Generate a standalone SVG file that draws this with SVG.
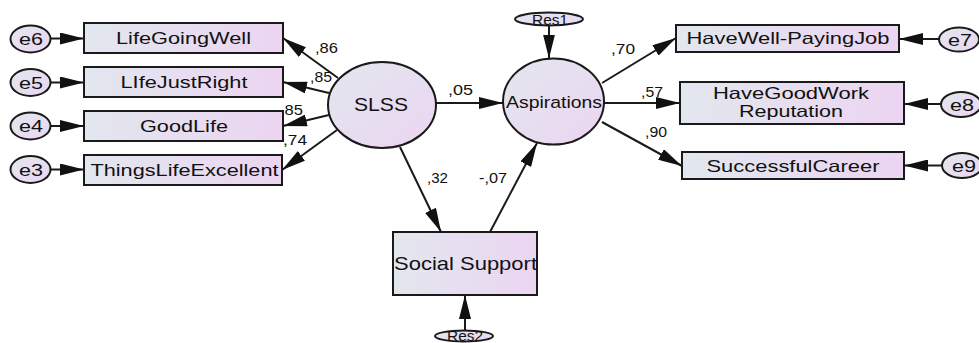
<svg xmlns="http://www.w3.org/2000/svg" width="979" height="343" viewBox="0 0 979 343">
<style>
.box{stroke:#1a1a1a;stroke-width:2;fill:url(#gh)}
.ell{stroke:#1a1a1a;stroke-width:2;fill:url(#gd)}
.lbl{font-family:"Liberation Sans",Arial,sans-serif;fill:#111;text-anchor:middle}
.num{font-family:"Liberation Sans",Arial,sans-serif;fill:#111;font-size:14.5px}
.c{stroke:#1a1a1a;stroke-width:2;fill:none;marker-end:url(#ah)}
</style>
<defs>
<linearGradient id="gh" x1="0" y1="0" x2="1" y2="0">
<stop offset="0" stop-color="#e2e7ee"/>
<stop offset="1" stop-color="#ecd5f2"/>
</linearGradient>
<linearGradient id="gd" x1="0" y1="0" x2="1" y2="1">
<stop offset="0" stop-color="#e2e7ee"/>
<stop offset="1" stop-color="#ecd5f2"/>
</linearGradient>
<marker id="ah" markerUnits="userSpaceOnUse" markerWidth="24" markerHeight="12" refX="24" refY="6" orient="auto" viewBox="0 0 24 12">
<path d="M0,0 L24,6 L0,12 z" fill="#111"/>
</marker>
</defs>
<rect width="979" height="343" fill="#fff"/>
<g id="connectors">
<line class="c" x1="51" y1="38.5" x2="84" y2="38.5"/>
<line class="c" x1="51" y1="82.5" x2="84" y2="82.5"/>
<line class="c" x1="51" y1="126" x2="84" y2="126"/>
<line class="c" x1="51" y1="169.5" x2="84" y2="169.5"/>
<line class="c" x1="939" y1="39" x2="899" y2="39"/>
<line class="c" x1="941" y1="104" x2="904" y2="104"/>
<line class="c" x1="942" y1="165.5" x2="904" y2="165.5"/>
<line class="c" x1="338" y1="78" x2="283" y2="38"/>
<line class="c" x1="329" y1="93" x2="283" y2="82"/>
<line class="c" x1="329" y1="115" x2="283" y2="126"/>
<line class="c" x1="337" y1="130" x2="282" y2="170"/>
<line class="c" x1="436" y1="103" x2="503" y2="103"/>
<line class="c" x1="549" y1="25.5" x2="549" y2="58.5"/>
<line class="c" x1="602" y1="83" x2="676" y2="38"/>
<line class="c" x1="604" y1="103" x2="680" y2="103"/>
<line class="c" x1="602" y1="122" x2="682" y2="166"/>
<line class="c" x1="400" y1="147" x2="441" y2="232"/>
<line class="c" x1="490" y1="232" x2="537" y2="143"/>
<line class="c" x1="465" y1="331" x2="465" y2="295"/>
<g id="labels">
<text class="num" x="315" y="53.3" textLength="23" lengthAdjust="spacingAndGlyphs">,86</text>
<text class="num" x="310" y="81.7" textLength="22" lengthAdjust="spacingAndGlyphs">,85</text>
<text class="num" x="280" y="115" textLength="23" lengthAdjust="spacingAndGlyphs">,85</text>
<text class="num" x="283" y="145" textLength="24" lengthAdjust="spacingAndGlyphs">,74</text>
<text class="num" x="448" y="95" textLength="25" lengthAdjust="spacingAndGlyphs">,05</text>
<text class="num" x="427" y="183" textLength="21" lengthAdjust="spacingAndGlyphs">,32</text>
<text class="num" x="479" y="183" textLength="28" lengthAdjust="spacingAndGlyphs">-,07</text>
<text class="num" x="611" y="54" textLength="24" lengthAdjust="spacingAndGlyphs">,70</text>
<text class="num" x="641" y="97" textLength="22" lengthAdjust="spacingAndGlyphs">,57</text>
<text class="num" x="645" y="137" textLength="22" lengthAdjust="spacingAndGlyphs">,90</text>
</g>
</g>
<g id="e6"><ellipse class="ell" cx="30.5" cy="39" rx="20" ry="13.5"/><text class="lbl" x="31" y="45" font-size="17" textLength="24" lengthAdjust="spacingAndGlyphs">e6</text></g>
<g id="e5"><ellipse class="ell" cx="30.5" cy="82.5" rx="20" ry="13.5"/><text class="lbl" x="31" y="88.5" font-size="17" textLength="24" lengthAdjust="spacingAndGlyphs">e5</text></g>
<g id="e4"><ellipse class="ell" cx="30.5" cy="126" rx="20" ry="13.5"/><text class="lbl" x="31" y="132" font-size="17" textLength="24" lengthAdjust="spacingAndGlyphs">e4</text></g>
<g id="e3"><ellipse class="ell" cx="30.5" cy="169.5" rx="20" ry="13.5"/><text class="lbl" x="31" y="175.5" font-size="17" textLength="24" lengthAdjust="spacingAndGlyphs">e3</text></g>
<g id="LifeGoingWell"><rect class="box" x="84" y="23" width="199" height="30"/><text class="lbl" x="183.5" y="44" font-size="16.5" textLength="135" lengthAdjust="spacingAndGlyphs">LifeGoingWell</text></g>
<g id="LIfeJustRight"><rect class="box" x="84" y="67" width="199" height="30"/><text class="lbl" x="184" y="88" font-size="16.5" textLength="127" lengthAdjust="spacingAndGlyphs">LIfeJustRight</text></g>
<g id="GoodLife"><rect class="box" x="84" y="111" width="199" height="30"/><text class="lbl" x="184" y="132" font-size="16.5" textLength="88" lengthAdjust="spacingAndGlyphs">GoodLife</text></g>
<g id="ThingsLifeExcellent"><rect class="box" x="84" y="155" width="198" height="30"/><text class="lbl" x="184.5" y="175.5" font-size="16.5" textLength="188" lengthAdjust="spacingAndGlyphs">ThingsLifeExcellent</text></g>
<g id="SLSS"><ellipse class="ell" cx="382" cy="105" rx="54" ry="43"/><text class="lbl" x="381" y="110.5" font-size="19" textLength="54" lengthAdjust="spacingAndGlyphs">SLSS</text></g>
<g id="Aspirations"><ellipse class="ell" cx="553.5" cy="101.5" rx="50.5" ry="43"/><text class="lbl" x="554" y="108" font-size="17" textLength="96" lengthAdjust="spacingAndGlyphs">Aspirations</text></g>
<g id="Res1"><ellipse class="ell" cx="549" cy="19" rx="34" ry="6.5"/><text class="lbl" x="550" y="25" font-size="15" textLength="36" lengthAdjust="spacingAndGlyphs">Res1</text></g>
<g id="SocialSupport"><rect class="box" x="393" y="232" width="144" height="63"/><text class="lbl" x="465.5" y="270" font-size="19" textLength="143" lengthAdjust="spacingAndGlyphs">Social Support</text></g>
<g id="Res2"><ellipse class="ell" cx="464" cy="336" rx="29" ry="5.5"/><text class="lbl" x="465" y="341" font-size="14" textLength="36" lengthAdjust="spacingAndGlyphs">Res2</text></g>
<g id="HaveWell-PayingJob"><rect class="box" x="676" y="25" width="223" height="27"/><text class="lbl" x="788" y="44" font-size="16.5" textLength="203" lengthAdjust="spacingAndGlyphs">HaveWell-PayingJob</text></g>
<g id="HaveGoodWorkReputation"><rect class="box" x="680" y="82" width="224" height="42"/><text class="lbl" x="791" y="99" font-size="16.5" textLength="156" lengthAdjust="spacingAndGlyphs">HaveGoodWork</text><text class="lbl" x="791" y="116.5" font-size="16.5" textLength="104" lengthAdjust="spacingAndGlyphs">Reputation</text></g>
<g id="SuccessfulCareer"><rect class="box" x="682" y="152" width="222" height="27"/><text class="lbl" x="793" y="171.5" font-size="16.5" textLength="173" lengthAdjust="spacingAndGlyphs">SuccessfulCareer</text></g>
<g id="e7"><ellipse class="ell" cx="959" cy="39.5" rx="20" ry="12"/><text class="lbl" x="960" y="45.5" font-size="17" textLength="24" lengthAdjust="spacingAndGlyphs">e7</text></g>
<g id="e8"><ellipse class="ell" cx="961" cy="104.5" rx="20" ry="12.5"/><text class="lbl" x="962" y="110.5" font-size="17" textLength="24" lengthAdjust="spacingAndGlyphs">e8</text></g>
<g id="e9"><ellipse class="ell" cx="962" cy="165.5" rx="20" ry="12.5"/><text class="lbl" x="964" y="171.5" font-size="17" textLength="24" lengthAdjust="spacingAndGlyphs">e9</text></g>
</svg>
